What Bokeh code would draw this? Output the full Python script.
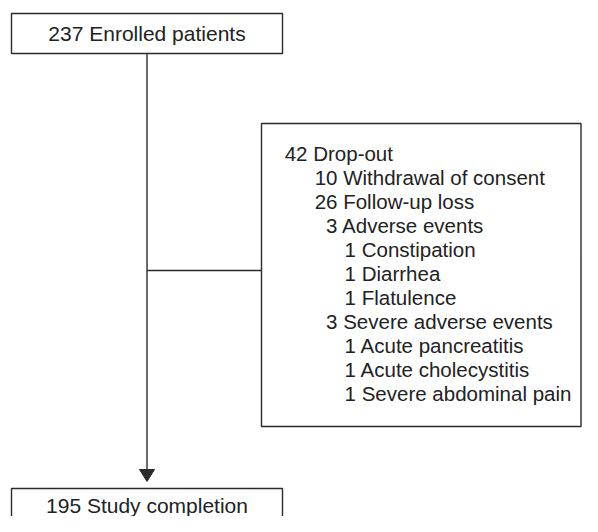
from bokeh.plotting import figure
from bokeh.models import Range1d
from bokeh.core.properties import value
from bokeh.embed import file_html
from bokeh.resources import INLINE

# ---- data ----
enrolled = 237
completed = 195
enrolled_label = "Enrolled patients"
completed_label = "Study completion"
drop_counts = [42, 10, 26, 3, 1, 1, 1, 3, 1, 1, 1]
drop_labels = ["Drop-out", "Withdrawal of consent", "Follow-up loss",
               "Adverse events", "Constipation", "Diarrhea", "Flatulence",
               "Severe adverse events", "Acute pancreatitis",
               "Acute cholecystitis", "Severe abdominal pain"]
drop_levels = [0, 1, 1, 1, 2, 2, 2, 1, 2, 2, 2]

# ---- layout (pixel coordinates) ----
FONT = value("Liberation Sans")
FS = "21px"
FS2 = "20.5px"
LC = "#2b2b2b"
TC = "#222222"
LW = 1.4
W, H = 582, 516

p = figure(width=W, height=H, x_range=Range1d(0, W), y_range=Range1d(H, 0),
           output_backend="svg", toolbar_location=None, min_border=0)
p.axis.visible = False
p.xgrid.visible = False
p.ygrid.visible = False
p.outline_line_color = None

cx = 146.5
box_top2 = 488
# main boxes
p.quad(left=[11, 11], right=[282, 282], top=[13, box_top2], bottom=[53, 540],
       fill_color="white", line_color=LC, line_width=LW)
# side box
p.quad(left=[261], right=[580.5], top=[123], bottom=[426],
       fill_color="white", line_color=LC, line_width=LW)

# connectors
p.segment(x0=[cx, cx], y0=[53, 270], x1=[cx, 261], y1=[box_top2 - 18, 270],
          line_color=LC, line_width=LW)
p.patch(x=[cx - 7.5, cx + 7.5, cx], y=[box_top2 - 19, box_top2 - 19, box_top2 - 7],
        fill_color=LC, line_color=LC)

# box texts
p.text(x=[cx, cx], y=[33, box_top2 + 17],
       text=[f"{enrolled} {enrolled_label}", f"{completed} {completed_label}"],
       text_font=FONT, text_font_size=FS, text_align="center",
       text_baseline="middle", text_color=TC)

# drop-out list (numbers right-aligned per indent level)
num_right = [307, 337, 355.5]
digit_w = 11.4
xs = [num_right[lv] - len(str(c)) * digit_w for c, lv in zip(drop_counts, drop_levels)]
ys = [153 + 24 * i for i in range(len(drop_counts))]
texts = [f"{c} {l}" for c, l in zip(drop_counts, drop_labels)]
p.text(x=xs, y=ys, text=texts, text_font=FONT, text_font_size=FS2,
       text_align="left", text_baseline="middle", text_color=TC)

open("out.html", "w").write(file_html(p, INLINE))
